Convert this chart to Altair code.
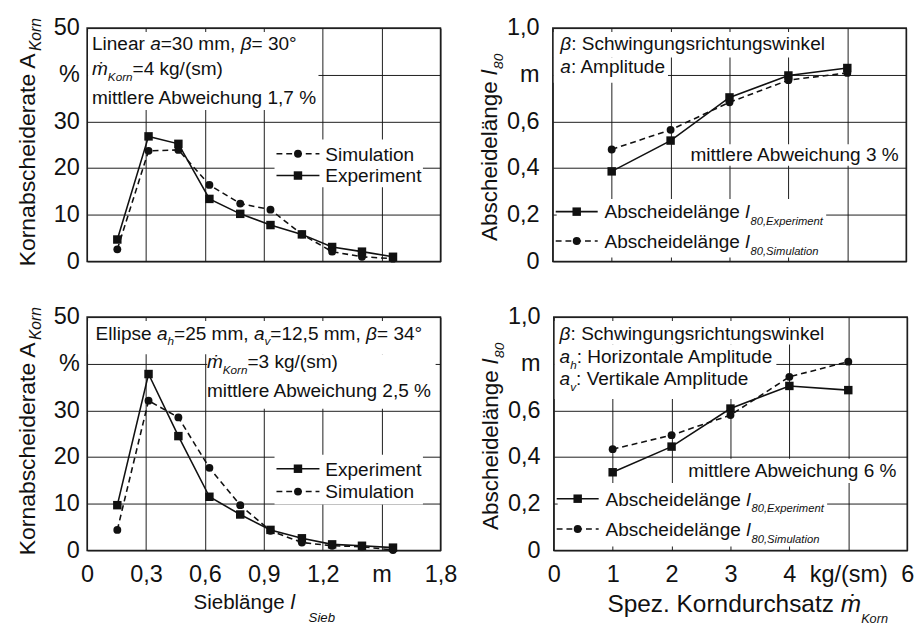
import altair as alt
import pandas as pd

FONT = "Liberation Sans"
INK = "#111111"
GRID = "#1a1a1a"

# ---------------- data ----------------
sieb_x = [0.154, 0.313, 0.465, 0.623, 0.780, 0.934, 1.094, 1.248, 1.400, 1.558]
tl_exp = [4.7, 26.8, 25.2, 13.4, 10.2, 7.8, 5.8, 3.1, 2.1, 1.0]
tl_sim = [2.6, 23.7, 23.9, 16.4, 12.4, 11.1, 5.8, 2.1, 1.0, 0.6]
bl_exp = [9.7, 37.8, 24.5, 11.5, 7.7, 4.4, 2.6, 1.3, 1.0, 0.6]
bl_sim = [4.4, 32.1, 28.5, 17.7, 9.7, 4.2, 1.7, 1.0, 0.8, 0.1]

durchsatz_x = [1, 2, 3, 4, 5]
tr_exp = [0.386, 0.518, 0.703, 0.797, 0.829]
tr_sim = [0.480, 0.564, 0.682, 0.777, 0.808]
br_exp = [0.335, 0.445, 0.608, 0.705, 0.687]
br_sim = [0.434, 0.494, 0.580, 0.744, 0.809]

sieb_ticks = [0, 0.3, 0.6, 0.9, 1.2, 1.5, 1.8]
rate_ticks = [0, 10, 20, 30, 40, 50]
durch_ticks = [0, 1, 2, 3, 4, 5, 6]
len_ticks = [0, 0.2, 0.4, 0.6, 0.8, 1.0]

ONE = pd.DataFrame({"k": [0]})

# Arial / Liberation Sans advance widths (1/1000 em)
WID = {" ": 278, "%": 889, "(": 333, ")": 333, ",": 278, "-": 333, ".": 278, "/": 278,
       ":": 278, "=": 584, "°": 400, "β": 575, "ṁ": 833, "ä": 556,
       "A": 667, "E": 667, "H": 722, "K": 667, "L": 556, "S": 667, "V": 667,
       "a": 556, "b": 556, "c": 500, "d": 556, "e": 556, "f": 278, "g": 556, "h": 556,
       "i": 222, "j": 222, "k": 500, "l": 222, "m": 833, "n": 556, "o": 556, "p": 556,
       "q": 556, "r": 333, "s": 500, "t": 278, "u": 556, "v": 500, "w": 722, "x": 500,
       "y": 500, "z": 500}


def tw(s, size):
    return sum(WID.get(c, 556) for c in s) * size / 1000.0


def rich(parts, x0, y0, vertical=False):
    """parts: (text, size, italic, gap, drop)"""
    out = []
    pos = 0.0
    for p in parts:
        text, size, italic = p[0], p[1], p[2]
        gap = p[3] if len(p) > 3 else 0
        drop = p[4] if len(p) > 4 else 0
        pos += gap
        if vertical:
            x, y, ang = x0 + drop, y0 - pos, 270
        else:
            x, y, ang = x0 + pos, y0 + drop, 0
        out.append(
            alt.Chart(ONE).mark_text(
                text=text, font=FONT, fontSize=size,
                fontStyle="italic" if italic else "normal",
                align="left", baseline="alphabetic", angle=ang, color=INK,
            ).encode(x=alt.value(x), y=alt.value(y))
        )
        pos += tw(text, size)
    return out


def box(x1, x2, y1, y2):
    return alt.Chart(ONE).mark_rect(color="white", opacity=1).encode(
        x=alt.value(x1), x2=alt.value(x2), y=alt.value(y1), y2=alt.value(y2))


def legend_row(y, dashed, shape, parts, x1, x2, tx):
    kw = dict(color=INK, strokeWidth=1.6)
    if dashed:
        kw["strokeDash"] = [6, 4]
    rule = alt.Chart(ONE).mark_rule(**kw).encode(
        x=alt.value(x1), x2=alt.value(x2), y=alt.value(y))
    pt = alt.Chart(ONE).mark_point(
        shape=shape, filled=True, size=75 if shape == "square" else 65,
        color=INK, opacity=1).encode(x=alt.value((x1 + x2) / 2.0), y=alt.value(y))
    return [rule, pt] + rich(parts, tx, y + 7)


def make_panel(xs, exp, sim, xdom, xvals, xexpr, show_x, ydom, yvals, yexpr,
               ypad, boxes, texts):
    common = dict(grid=True, gridColor=GRID, gridWidth=1, gridOpacity=1,
                  ticks=False, tickSize=0, domain=False, labelFont=FONT,
                  labelFontSize=24, labelColor=INK, labelFlush=False,
                  labelOverlap=False, title=None)
    xaxis = alt.Axis(values=xvals, labels=show_x, labelExpr=xexpr,
                     labelPadding=13, **common)
    yaxis = alt.Axis(values=yvals, labelExpr=yexpr, labelPadding=ypad, **common)
    xsc = alt.Scale(domain=xdom, nice=False, zero=False)
    ysc = alt.Scale(domain=ydom, nice=False, zero=False)
    df = pd.DataFrame({"x": xs, "exp": exp, "sim": sim})
    base = alt.Chart(df)
    X = alt.X("x:Q", scale=xsc, axis=xaxis)
    exp_line = base.mark_line(color=INK, strokeWidth=1.6).encode(
        x=X, y=alt.Y("exp:Q", scale=ysc, axis=yaxis))
    sim_line = base.mark_line(color=INK, strokeWidth=1.6, strokeDash=[6, 4]).encode(
        x=X, y=alt.Y("sim:Q", scale=ysc, axis=yaxis))
    exp_pts = base.mark_point(shape="square", filled=True, size=75, color=INK,
                              opacity=1).encode(
        x=X, y=alt.Y("exp:Q", scale=ysc, axis=yaxis))
    sim_pts = base.mark_point(shape="circle", filled=True, size=65, color=INK,
                              opacity=1).encode(
        x=X, y=alt.Y("sim:Q", scale=ysc, axis=yaxis))
    layers = boxes + [exp_line, sim_line, exp_pts, sim_pts] + texts
    return alt.layer(*layers).properties(width=362, height=239)


N, I = False, True
S = 19.5

sieb_expr = ("datum.value == 0 ? '0' : (abs(datum.value - 1.5) < 1e-6 ? 'm' : "
             "replace(format(datum.value, '.1f'), '.', ','))")
rate_expr = "datum.value == 40 ? '%\u00a0' : datum.label"
len_expr = ("datum.value == 0 ? '0' : (abs(datum.value - 0.8) < 1e-6 ? 'm' : "
            "replace(format(datum.value, '.1f'), '.', ','))")
durch_expr = "datum.value == 5 ? 'kg/(sm)' : datum.label"

left_ytitle = [("Kornabscheiderate A", 23.5, N), ("Korn", 16, I, 1, 6)]
right_ytitle = [("Abscheidelänge ", 23, N), ("l", 23, I), ("80", 14, I, 1, 6)]

# ---------------- top left ----------------
tl_texts = (
    rich([("Linear ", S, N), ("a", S, I), ("=30 mm, ", S, N), ("β", S, I),
          ("= 30°", S, N)], 5, 22.5)
    + rich([("ṁ", S, I), ("Korn", 12, I, 0, 6), ("=4 kg/(sm)", S, N)], 5, 48)
    + rich([("mittlere Abweichung 1,7 %", S, N)], 5, 77.5)
    + legend_row(128.7, True, "circle", [("Simulation", S, N)], 194, 238, 244)
    + legend_row(151, False, "square", [("Experiment", S, N)], 194, 238, 244)
    + rich(left_ytitle, -53, 244, vertical=True)
)
tl = make_panel(sieb_x, tl_exp, tl_sim, [0, 1.8], sieb_ticks, sieb_expr, False,
                [0, 50], rate_ticks, rate_expr, 8,
                [box(1, 237, 4, 84), box(192, 344, 114, 163)], tl_texts)

# ---------------- top right ----------------
tr_texts = (
    rich([("β", S, I), (": Schwingungsrichtungswinkel", S, N)], 7.7, 22)
    + rich([("a", S, I), (": Amplitude", S, N)], 7.7, 46)
    + rich([("mittlere Abweichung 3 %", S, N)], 141, 136)
    + legend_row(188, False, "square",
                 [("Abscheidelänge ", S, N), ("l", S, I), ("80,Experiment", 11.5, I, 1, 7)],
                 3, 46, 53)
    + legend_row(218, True, "circle",
                 [("Abscheidelänge ", S, N), ("l", S, I), ("80,Simulation", 11.5, I, 1, 7)],
                 3, 46, 53)
    + rich(right_ytitle, -57, 218, vertical=True)
)
tr = make_panel(durchsatz_x, tr_exp, tr_sim, [0, 6], durch_ticks, durch_expr, False,
                [0, 1], len_ticks, len_expr, 14,
                [box(1, 286, 4, 30), box(1, 118, 30, 56), box(139, 356, 119, 141),
                 box(4, 280, 175, 235)], tr_texts)

# ---------------- bottom left ----------------
bl_texts = (
    rich([("Ellipse ", S, N), ("a", S, I), ("h", 12, I, 0, 6), ("=25 mm, ", S, N),
          ("a", S, I), ("v", 12, I, 0, 6), ("=12,5 mm, ", S, N), ("β", S, I),
          ("= 34°", S, N)], 8.7, 23)
    + rich([("ṁ", S, I), ("Korn", 12, I, 0, 6), ("=3 kg/(sm)", S, N)], 122.7, 52)
    + rich([("mittlere Abweichung 2,5 %", S, N)], 122.7, 82)
    + legend_row(155.3, False, "square", [("Experiment", S, N)], 194, 238, 244)
    + legend_row(178.7, True, "circle", [("Simulation", S, N)], 194, 238, 244)
    + rich(left_ytitle, -53, 244, vertical=True)
    + rich([("Sieblänge ", 21, N), ("l", 21, I), ("Sieb", 13.5, I, 14, 13)], 109, 299)
)
bl = make_panel(sieb_x, bl_exp, bl_sim, [0, 1.8], sieb_ticks, sieb_expr, True,
                [0, 50], rate_ticks, rate_expr, 8,
                [box(1, 357, 4, 38), box(123, 357, 38, 94), box(192, 344, 141, 192)],
                bl_texts)

# ---------------- bottom right ----------------
br_texts = (
    rich([("β", S, I), (": Schwingungsrichtungswinkel", S, N)], 6, 23.5)
    + rich([("a", S, I), ("h", 12, I, 0, 6), (": Horizontale Amplitude", S, N)], 6, 47)
    + rich([("a", S, I), ("v", 12, I, 0, 6), (": Vertikale Amplitude", S, N)], 6, 70)
    + rich([("mittlere Abweichung 6 %", S, N)], 137.7, 164)
    + legend_row(186, False, "square",
                 [("Abscheidelänge ", S, N), ("l", S, I), ("80,Experiment", 11.5, I, 1, 7)],
                 3, 46, 53)
    + legend_row(217, True, "circle",
                 [("Abscheidelänge ", S, N), ("l", S, I), ("80,Simulation", 11.5, I, 1, 7)],
                 3, 46, 53)
    + rich(right_ytitle, -57, 218, vertical=True)
    + rich([("Spez. Korndurchsatz ", 25, N), ("ṁ", 25, I), ("Korn", 13, I, 0, 11)], 55, 302)
)
br = make_panel(durchsatz_x, br_exp, br_sim, [0, 6], durch_ticks, durch_expr, True,
                [0, 1], len_ticks, len_expr, 14,
                [box(1, 286, 4, 28), box(1, 228, 28, 84), box(135, 355, 145, 170),
                 box(4, 280, 170, 235)], br_texts)

row1 = alt.hconcat(tl, tr, spacing=38)
row2 = alt.hconcat(bl, br, spacing=22)
chart = alt.vconcat(row1, row2, spacing=31).properties(
    padding={"left": 8, "top": 0, "right": 0, "bottom": 0},
    background="white",
).configure_view(stroke="#222222", strokeWidth=1.5)

chart.save("out.html", embed_options={"renderer": "svg", "actions": False})
